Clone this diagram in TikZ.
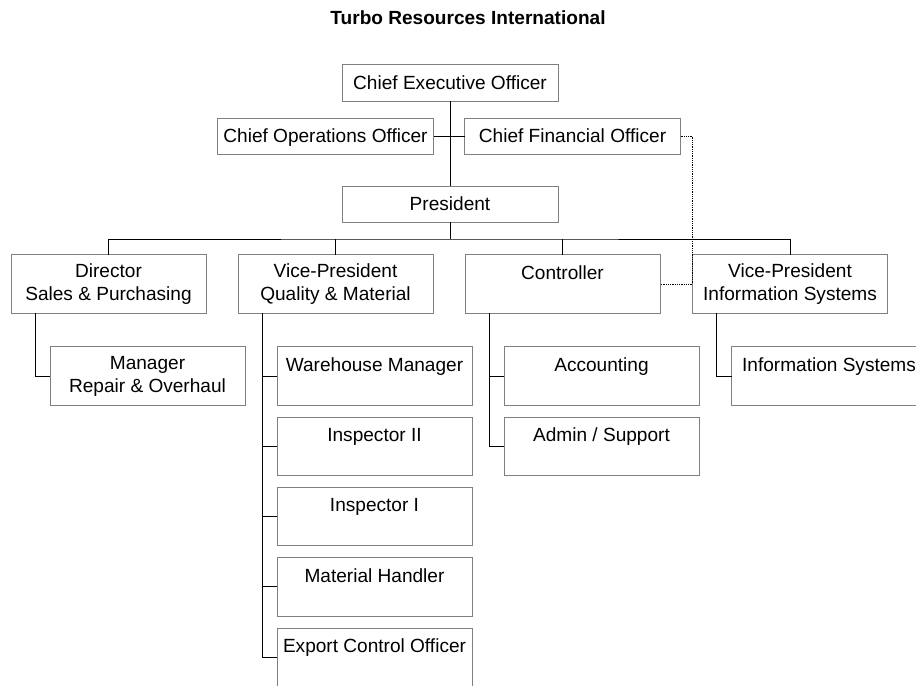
\documentclass[tikz,border=0pt]{standalone}
\usepackage{fontspec}
\setmainfont{Liberation Sans}
\usetikzlibrary{calc}

\definecolor{boxgray}{RGB}{128,128,128}

\tikzset{
  orgbox/.style={draw=boxgray, line width=0.75, fill=white, inner sep=0pt, outer sep=0pt,
    align=center, font=\fontsize{14.3}{17.25}\selectfont},
  topbox/.style={orgbox, minimum width=162pt, minimum height=27pt, text height=11pt, text depth=0.8pt},
  unitbox/.style={orgbox, minimum width=146.25pt, minimum height=43.7pt},
  link/.style={line width=0.75, black},
  dotlink/.style={line width=0.75, black, dash pattern=on 0.75pt off 0.6pt},
}

\begin{document}
\begin{tikzpicture}[x=0.75pt,y=0.75pt,yscale=-1,xscale=1]
\useasboundingbox (0,0) rectangle (916,685);

% Text Node
\node[font=\fontsize{14.3}{17}\selectfont\bfseries] (title) at (468,18) {Turbo Resources International};

%Shape: Rectangle (executives)
\node[topbox] (ceo) at (450,83) {Chief Executive Officer};
\node[topbox] (coo) at (325.5,136) {Chief Operations Officer};
\node[topbox] (cfo) at (572.5,136) {Chief Financial Officer};
\node[topbox] (pres) at (450,204) {President};

%Shape: Rectangle (second level)
\node[unitbox] (dir) at (108.5,284) {Director\\Sales \& Purchasing};
\node[unitbox] (vpqm) at (335.5,284) {Vice-President\\Quality \& Material};
\node[unitbox] (ctrl) at (562.5,284) {Controller\\\mbox{}};
\node[unitbox] (vpis) at (790,284) {Vice-President\\Information Systems};

%Shape: Rectangle (third level)
\node[unitbox] (mgr) at (147.5,376) {Manager\\Repair \& Overhaul};
\node[unitbox] (whm) at (374.5,376) {Warehouse Manager\\\mbox{}};
\node[unitbox] (insp2) at (374.5,446.3) {Inspector II\\\mbox{}};
\node[unitbox] (insp1) at (374.5,516.6) {Inspector I\\\mbox{}};
\node[unitbox] (mat) at (374.5,586.9) {Material Handler\\\mbox{}};
\node[unitbox] (exp) at (374.5,657.2) {Export Control Officer\\\mbox{}};
\node[unitbox] (acct) at (601.5,376) {Accounting\\\mbox{}};
\node[unitbox] (admin) at (601.5,446.3) {Admin / Support\\\mbox{}};
\node[unitbox] (infosys) at (829,376) {Information Systems\\\mbox{}};

%Straight Lines (top trunk)
\draw[link] (ceo.south) -- (pres.north);
\draw[link] (coo.east) -- (cfo.west);

%Straight Lines (bus under president)
\coordinate (bus) at (450,239);
\draw[link] (pres.south) -- (bus);
\draw[link] (dir.north) |- (bus) -| (vpis.north);
\draw[link] (vpqm.north) -- (vpqm.north |- bus);
\draw[link] (ctrl.north) -- (ctrl.north |- bus);

%Straight Lines (branches)
\coordinate (dirbus) at ($(dir.south west)+(24,0)$);
\coordinate (qmbus) at ($(vpqm.south west)+(24,0)$);
\coordinate (ctrlbus) at ($(ctrl.south west)+(24,0)$);
\coordinate (isbus) at ($(vpis.south west)+(24,0)$);
\draw[link] (dirbus) |- (mgr.west);
\draw[link] (qmbus) |- (exp.west);
\foreach \n in {whm,insp2,insp1,mat}
  \draw[link] (\n.west) -- (\n.west -| qmbus);
\draw[link] (ctrlbus) |- (admin.west);
\draw[link] (acct.west) -- (acct.west -| ctrlbus);
\draw[link] (isbus) |- (infosys.west);

%Dotted Lines (CFO to controller)
\draw[dotlink] (cfo.east) -| (vpis.west |- ctrl.east) -- (ctrl.east);

\end{tikzpicture}
\end{document}
